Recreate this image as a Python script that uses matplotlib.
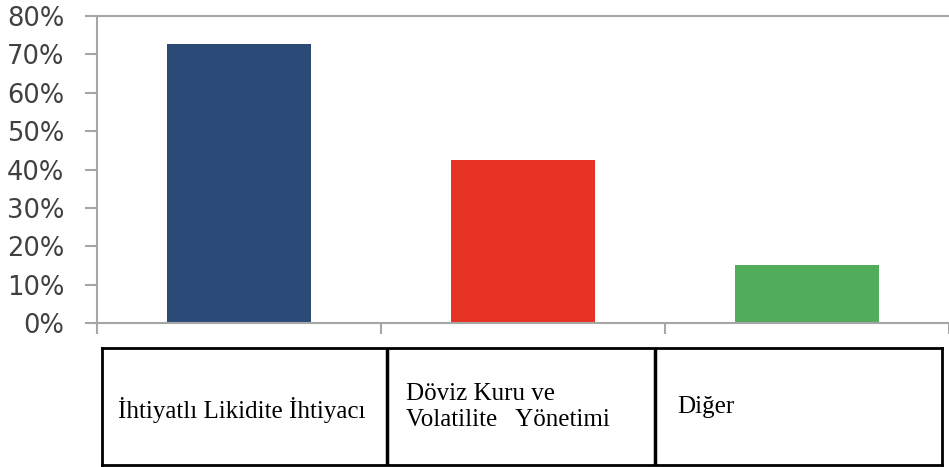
import matplotlib.pyplot as plt
from matplotlib.ticker import PercentFormatter
import numpy as np

categories = ['İhtiyatlı Likidite İhtiyacı', 'Döviz Kuru ve\nVolatilite   Yönetimi', 'Diğer']
values = [72.7, 42.6, 15.1]
colors = ['#2C4A77', '#E63323', '#52AD5B']

W, H = 949, 467
fig = plt.figure(figsize=(W / 100, H / 100), dpi=100)

# bar chart
ax = fig.add_axes([97 / W, (H - 323) / H, (W - 97) / W, (323 - 16) / H])
x = np.arange(len(categories))
ax.bar(x, values, width=0.505, color=colors)
ax.set_xlim(-0.5, 2.49)
ax.set_ylim(0, 80)
ax.set_yticks(np.arange(0, 81, 10))
ax.yaxis.set_major_formatter(PercentFormatter(decimals=0))
ax.set_xticks(np.arange(-0.5, 2.6, 1))
ax.set_xticklabels([])
for side in ['left', 'top', 'bottom']:
    ax.spines[side].set_color('#A6A6A6')
    ax.spines[side].set_linewidth(1.5)
ax.spines['right'].set_visible(False)
ax.tick_params(axis='y', direction='out', length=8.5, width=1.5, color='#A6A6A6',
               labelsize=18.5, labelcolor='#404040', pad=15)
ax.tick_params(axis='x', direction='out', length=8, width=1.5, color='#A6A6A6')

# table below the chart
tx0, tx1, ty0, ty1 = 102, 942, 348, 465
tab = fig.add_axes([tx0 / W, (H - ty1) / H, (tx1 - tx0) / W, (ty1 - ty0) / H])
tab.set_xlim(tx0, tx1)
tab.set_ylim(ty1, ty0)
tab.set_xticks([])
tab.set_yticks([])
for s in tab.spines.values():
    s.set_linewidth(2)
    s.set_color('black')
for cx in [387, 655]:
    tab.axvline(cx, color='black', lw=2.5)
text_pos = [(118, 410), (406, 407), (677, 407)]
for (px, py), label in zip(text_pos, categories):
    tab.text(px, py, label, ha='left', va='center', fontsize=18,
             family='Liberation Serif', color='black', linespacing=1.25)

fig.savefig('out.png', dpi=100)
